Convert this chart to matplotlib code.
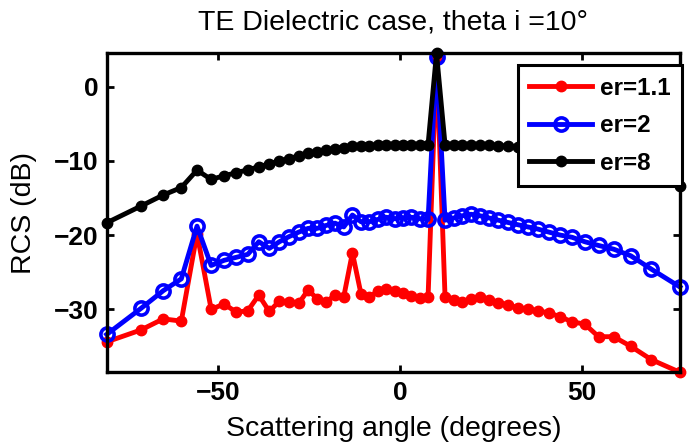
import matplotlib
matplotlib.use("Agg")
import matplotlib.pyplot as plt

plt.rcParams['font.family'] = ['Liberation Sans', 'DejaVu Sans']

# Scattering angles (degrees) of the computed points
angles = [-80.52, -71.15, -65.00, -60.04, -55.73, -51.85, -48.28, -44.94, -41.79, -38.78,
          -35.90, -33.12, -30.42, -27.80, -25.24, -22.73, -20.26, -17.84, -15.45, -13.08,
          -10.74, -8.42, -6.11, -3.80, -1.51, 0.78, 3.08, 5.37, 7.68, 10.00,
          12.34, 14.69, 17.08, 19.49, 21.94, 24.43, 26.98, 29.58, 32.25, 35.01,
          37.86, 40.82, 43.92, 47.19, 50.69, 54.46, 58.62, 63.33, 68.98, 76.81]

rcs_er11 = [-34.4, -32.8, -31.3, -31.6, -19.8, -30.0, -29.3, -30.4, -30.2, -28.1,
            -30.3, -28.9, -29.0, -29.2, -27.4, -28.6, -29.0, -28.1, -28.3, -22.4,
            -27.9, -28.4, -27.5, -27.3, -27.6, -27.8, -28.2, -28.5, -28.4, 3.8,
            -28.3, -28.7, -29.0, -28.6, -28.4, -28.8, -29.1, -29.4, -29.8, -30.0,
            -30.2, -30.5, -31.0, -31.7, -32.0, -33.7, -33.7, -35.0, -36.8, -38.5]

rcs_er2 = [-33.4, -29.9, -27.5, -25.9, -18.8, -24.1, -23.4, -23.0, -22.6, -20.9,
           -21.8, -20.9, -20.2, -19.6, -19.1, -19.1, -18.7, -18.4, -18.9, -17.3,
           -18.2, -18.2, -17.9, -17.6, -17.8, -17.7, -17.6, -17.8, -17.9, 4.0,
           -18.0, -17.7, -17.4, -17.2, -17.4, -17.7, -18.0, -18.3, -18.6, -18.9,
           -19.2, -19.6, -20.0, -20.3, -20.9, -21.4, -21.9, -22.8, -24.6, -27.0]

rcs_er8 = [-18.35, -16.1, -14.6, -13.6, -11.25, -12.5, -12.0, -11.6, -11.2, -10.8,
           -10.4, -10.0, -9.7, -9.3, -9.0, -8.75, -8.55, -8.35, -8.2, -8.05,
           -8.0, -7.95, -7.9, -7.85, -7.8, -7.8, -7.8, -7.8, -7.8, 4.5,
           -7.8, -7.8, -7.8, -7.85, -7.85, -7.9, -7.95, -8.0, -8.1, -8.2,
           -8.3, -8.5, -8.8, -9.1, -9.5, -10.0, -10.6, -11.3, -12.2, -13.4]

labels = ['er=1.1', 'er=2', 'er=8']
xticks = [-50, 0, 50]
yticks = [-30, -20, -10, 0]

fig = plt.figure(figsize=(6.91, 4.48), dpi=100)
ax = fig.add_axes([0.1544, 0.169, 0.8296, 0.712])

lw = 3.5
ax.plot(angles, rcs_er11, '-o', color='red', lw=lw, ms=7.5, mfc='red', mec='red',
        mew=1, label=labels[0], clip_on=False)
ax.plot(angles, rcs_er2, '-o', color='blue', lw=lw, ms=9.5, mfc='none', mec='blue',
        mew=2.6, label=labels[1], clip_on=False)
ax.plot(angles, rcs_er8, '-o', color='black', lw=lw, ms=7.5, mfc='black', mec='black',
        mew=1, label=labels[2], clip_on=False)

ax.set_xlim(angles[0], angles[-1])
ax.set_ylim(min(rcs_er11), max(rcs_er8))
ax.set_xticks(xticks)
ax.set_yticks(yticks)
ax.tick_params(direction='in', length=5, width=2, top=True, right=True,
               labelsize=19, pad=6)
for lab in ax.get_xticklabels() + ax.get_yticklabels():
    lab.set_fontweight('bold')
for sp in ax.spines.values():
    sp.set_linewidth(2.4)

ax.set_title('TE Dielectric case, theta i =10°', fontsize=20.5, pad=17)
ax.set_xlabel('Scattering angle (degrees)', fontsize=20.5, labelpad=8)
ax.set_ylabel('RCS (dB)', fontsize=20.5, labelpad=12)

leg = ax.legend(loc='upper right', bbox_to_anchor=(1.003, 0.963),
                bbox_transform=ax.transAxes, borderaxespad=0, fancybox=False,
                framealpha=1, edgecolor='black', numpoints=1,
                prop={'weight': 'bold', 'size': 17.5}, handlelength=2.6,
                handletextpad=0.3, labelspacing=0.6, borderpad=0.47)
leg.get_frame().set_linewidth(2.2)
leg.set_zorder(5)

fig.savefig('out.png', dpi=100)
